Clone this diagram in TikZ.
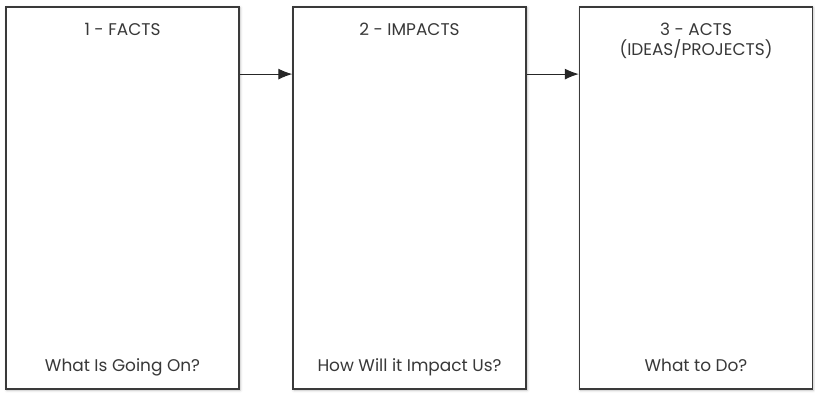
\documentclass[tikz,border=0pt]{standalone}
\usepackage{fontspec}
\setmainfont{Poppins}
\usetikzlibrary{arrows.meta,shadows.blur}
\definecolor{boxline}{HTML}{3A3A3A}
\definecolor{labeltext}{HTML}{383838}

\tikzset{
    stagebox/.style={draw=boxline, line width=1.3bp, fill=white,
        minimum width=233bp, minimum height=382bp, inner sep=0pt,
        blur shadow={shadow xshift=1bp, shadow yshift=-1bp,
            shadow blur steps=6, shadow blur radius=3bp, shadow opacity=25}},
    stagetext/.style={text=labeltext, font=\fontsize{17}{19.5}\selectfont,
        align=center, inner sep=0pt},
    flowarrow/.style={-{Latex[length=14bp,width=11bp]}, line width=1.1bp, draw=black!85}
}

\begin{document}
\begin{tikzpicture}[x=1bp, y=1bp]
    \useasboundingbox (0,0) rectangle (815,393);

    % Stage boxes
    \node[stagebox] (facts) at (122.5,195) {};
    \node[stagebox] (impacts) at (409.5,195) {};
    \node[stagebox] (acts) at (696,195) {};

    % Headings
    \node[stagetext, anchor=base] (factshead) at ([yshift=-29]facts.north) {1 - FACTS};
    \node[stagetext, anchor=base] (impactshead) at ([yshift=-29]impacts.north) {2 - IMPACTS};
    \node[stagetext, anchor=north] (actshead) at ([yshift=-17]acts.north) {3 - ACTS\\(IDEAS/PROJECTS)};

    % Questions
    \node[stagetext, anchor=base] (factsask) at ([yshift=18]facts.south) {What Is Going On?};
    \node[stagetext, anchor=base] (impactsask) at ([yshift=18]impacts.south) {How Will it Impact Us?};
    \node[stagetext, anchor=base] (actsask) at ([yshift=18]acts.south) {What to Do?};

    % Arrows
    \draw[flowarrow] ([yshift=-68]facts.north east) -- ([yshift=-68]impacts.north west);
    \draw[flowarrow] ([yshift=-68]impacts.north east) -- ([yshift=-68]acts.north west);
\end{tikzpicture}
\end{document}
